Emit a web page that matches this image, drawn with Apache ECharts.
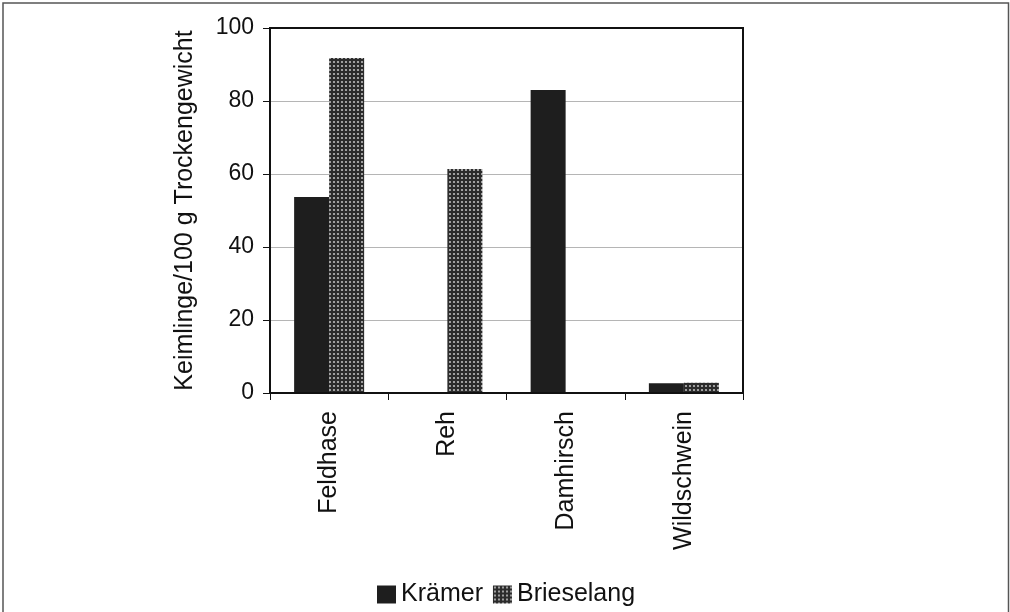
<!DOCTYPE html>
<html>
<head>
<meta charset="utf-8">
<script src="https://cdn.jsdelivr.net/npm/echarts@6/dist/echarts.min.js"></script>
<style>
  html, body { margin: 0; padding: 0; background: #fff; }
  #chart { width: 1010px; height: 612px; }
</style>
</head>
<body>
<div id="chart"></div>
<script>
// Seedlings per 100 g dry weight, by animal species and site
const categories = ['Feldhase', 'Reh', 'Damhirsch', 'Wildschwein'];
const kraemer = [53.7, 0, 83, 2.7];
const brieselang = [91.8, 61.4, 0, 2.8];
const yTicks = [0, 20, 40, 60, 80, 100];

// Dotted fill for the Brieselang bars
function dotPattern() {
  const c = document.createElement('canvas');
  c.width = 4; c.height = 4;
  const g = c.getContext('2d');
  g.fillStyle = '#2b2b2b';
  g.fillRect(0, 0, 4, 4);
  g.fillStyle = '#bdbdbd';
  g.beginPath();
  g.arc(2, 2, 1.1, 0, Math.PI * 2);
  g.fill();
  return c;
}
const dotted = { image: dotPattern(), repeat: 'repeat' };

const font = 'Arial, "Liberation Sans", sans-serif';
const chart = echarts.init(document.getElementById('chart'));
chart.setOption({
  backgroundColor: '#fff',
  animation: false,
  textStyle: { fontFamily: font, color: '#111' },
  graphic: [
    {
      type: 'rect',
      shape: { x: 3, y: 3, width: 1005.5, height: 620 },
      style: { fill: 'none', stroke: '#555', lineWidth: 1.5 },
      silent: true
    },
    {
      type: 'rect',
      shape: { x: 270, y: 28, width: 473, height: 365 },
      style: { fill: 'none', stroke: '#111', lineWidth: 2 },
      silent: true,
      z: 10
    }
  ],
  grid: { left: 270, right: 267, top: 28, bottom: 219, containLabel: false },
  legend: {
    bottom: 0,
    left: 372,
    icon: 'rect',
    itemWidth: 19,
    itemHeight: 18,
    itemGap: 10,
    textStyle: { fontSize: 25, fontFamily: font, color: '#111' },
    data: ['Krämer', 'Brieselang']
  },
  xAxis: {
    type: 'category',
    data: categories,
    axisLine: { lineStyle: { color: '#111', width: 2 } },
    axisTick: { show: true, alignWithLabel: false, length: 7, lineStyle: { color: '#111' } },
    axisLabel: { rotate: 90, fontSize: 25, color: '#111', margin: 18, fontFamily: font }
  },
  yAxis: {
    type: 'value',
    min: 0,
    max: 100,
    interval: 20,
    name: 'Keimlinge/100 g Trockengewicht',
    nameLocation: 'middle',
    nameGap: 72,
    nameRotate: 90,
    nameTextStyle: { fontSize: 25, color: '#111', fontFamily: font },
    axisLine: { show: true, lineStyle: { color: '#111', width: 2 } },
    axisTick: { show: true, length: 7, lineStyle: { color: '#111' } },
    axisLabel: {
      fontSize: 23, color: '#111', margin: 16, fontFamily: font,
      formatter: v => (yTicks.includes(v) ? String(v) : '')
    },
    splitLine: { show: true, lineStyle: { color: '#b5b5b5', width: 1 } }
  },
  series: [
    {
      name: 'Krämer',
      type: 'bar',
      data: kraemer,
      barWidth: 35,
      barGap: '0%',
      itemStyle: { color: '#1e1e1e' }
    },
    {
      name: 'Brieselang',
      type: 'bar',
      data: brieselang,
      barWidth: 35,
      barGap: '0%',
      itemStyle: { color: dotted }
    }
  ]
});
</script>
</body>
</html>
